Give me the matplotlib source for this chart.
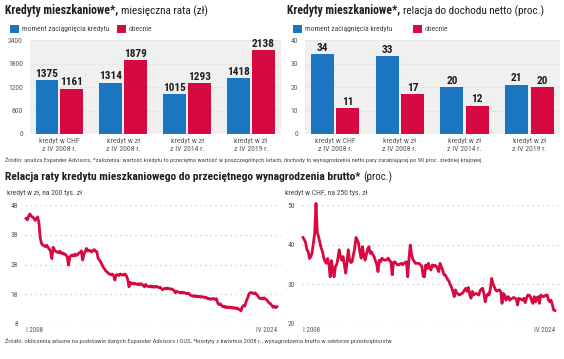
import numpy as np
import pandas as pd
import matplotlib
matplotlib.use('Agg')
import matplotlib.pyplot as plt
from matplotlib import font_manager
from matplotlib.patches import Rectangle

# pick the narrowest font that is installed
entries = font_manager.fontManager.ttflist
names = {f.name for f in entries}
STRETCH = 'normal'
FONT = None
for cand in ['Liberation Sans Narrow', 'Roboto Condensed', 'Open Sans Condensed',
             'Noto Sans Condensed', 'DejaVu Sans Condensed']:
    if cand in names:
        FONT = cand
        break
if FONT is None:
    cond = [f for f in entries if f.stretch in ('condensed', 'semi-condensed')
            and f.name in ('Roboto', 'Noto Sans', 'Open Sans', 'DejaVu Sans', 'Lato', 'Inter')]
    if cond:
        FONT = cond[0].name
        STRETCH = cond[0].stretch
    else:
        FONT = 'Roboto' if 'Roboto' in names else 'Liberation Sans'
plt.rcParams['font.family'] = [FONT, 'DejaVu Sans']
plt.rcParams['font.stretch'] = STRETCH

BLUE = '#1a76c0'
RED = '#d60a40'
GRAY_BG = '#f0f0f0'
TXT = '#1e1e1e'
TICK = '#5a5a5a'
NOTE = '#4a4a4a'

# data - bar charts
categories = ['kredyt w CHF\nz IV 2008 r.', 'kredyt w zł\nz IV 2008 r.',
              'kredyt w zł\nz IV 2014 r.', 'kredyt w zł\nz IV 2019 r.']
rata_start = [1375, 1314, 1015, 1418]
rata_now = [1161, 1879, 1293, 2138]
rel_start = [34, 33, 20, 21]
rel_now = [11, 17, 12, 20]
legend_labels = ['moment zaciągnięcia kredytu', 'obecnie']

# data - monthly ratio, I 2008 .. IV 2024
pln_200 = [
    43.5, 43.0, 44.2, 45.0, 44.3, 44.0, 43.6, 42.8, 43.4, 44.0, 42.0, 37.0,  # 2008
    35.0, 34.5, 34.3, 34.0, 34.5, 33.8, 33.2, 32.5, 30.0, 33.8, 33.0, 32.4,  # 2009
    32.2, 32.0, 32.5, 31.8, 32.0, 31.5, 31.6, 31.2, 30.5, 27.8, 30.5, 31.0,  # 2010
    31.2, 30.8, 31.5, 31.0, 31.3, 31.8, 32.0, 32.6, 29.5, 31.5, 32.5, 33.4,  # 2011
    32.5, 32.8, 32.6, 32.2, 32.8, 33.0, 32.5, 32.3, 30.0, 29.5, 28.8, 28.0,  # 2012
    27.0, 26.5, 25.8, 25.5, 25.0, 24.8, 24.5, 24.8, 24.3, 22.8, 24.5, 24.6,  # 2013
    24.3, 24.8, 24.5, 24.6, 24.4, 24.8, 24.2, 23.0, 20.5, 22.0, 21.5, 21.8,  # 2014
    21.4, 21.6, 21.3, 21.5, 21.2, 21.6, 21.3, 21.0, 20.5, 21.3, 20.8, 20.6,  # 2015
    20.5, 20.8, 20.4, 20.6, 20.3, 20.7, 20.5, 20.2, 20.4, 20.0, 19.5, 19.8,  # 2016
    20.0, 19.8, 20.1, 19.9, 19.7, 19.8, 19.6, 19.2, 18.5, 19.0, 18.8, 18.6,  # 2017
    18.5, 18.7, 18.4, 18.6, 18.3, 18.2, 18.4, 18.0, 17.6, 17.5, 17.3, 17.5,  # 2018
    17.2, 17.4, 17.1, 17.3, 17.0, 17.2, 17.1, 16.8, 17.0, 16.5, 16.6, 16.3,  # 2019
    16.5, 16.4, 16.6, 16.2, 16.5, 15.0, 14.5, 14.8, 14.2, 13.8, 14.0, 13.5,  # 2020
    13.8, 13.5, 13.7, 13.4, 13.6, 13.3, 13.5, 13.2, 13.4, 13.0, 12.8, 12.4,  # 2021
    13.8, 14.2, 14.0, 15.5, 16.5, 17.8, 18.5, 18.6, 18.4, 18.2, 18.5, 18.0,  # 2022
    17.5, 16.8, 16.5, 16.7, 16.5, 16.8, 16.4, 16.2, 15.5, 15.0, 14.8, 14.2,  # 2023
    13.6, 14.0, 13.5, 13.8,                                                  # 2024
]
chf_250 = [
    41.8, 41.2, 40.5, 38.7, 38.3, 36.5, 37.0, 38.0, 40.5, 42.9, 50.4, 43.0,  # 2008
    42.0, 40.5, 39.2, 38.3, 36.8, 35.8, 35.3, 36.5, 35.0, 31.9, 36.0, 33.6,  # 2009
    31.9, 34.5, 34.9, 36.5, 38.7, 37.0, 36.1, 37.0, 34.8, 32.8, 35.5, 38.7,  # 2010
    36.1, 35.5, 35.7, 37.5, 39.0, 41.8, 41.2, 40.3, 38.0, 36.6, 39.5, 37.4,  # 2011
    36.1, 37.5, 38.9, 39.5, 37.8, 38.2, 37.5, 37.0, 36.0, 35.0, 33.2, 36.1,  # 2012
    35.7, 36.6, 36.3, 36.1, 36.1, 36.3, 36.6, 36.0, 35.7, 32.4, 35.5, 35.7,  # 2013
    35.3, 34.9, 34.9, 35.1, 35.3, 34.9, 35.3, 35.5, 35.7, 31.9, 36.5, 39.9,  # 2014
    37.5, 36.3, 35.8, 35.3, 35.3, 35.3, 35.2, 34.9, 34.5, 32.0, 31.9, 34.9,  # 2015
    34.0, 35.3, 34.0, 33.6, 34.9, 34.5, 34.8, 34.6, 34.0, 33.2, 35.3, 34.5,  # 2016
    33.6, 32.4, 32.4, 31.8, 31.2, 30.7, 29.9, 29.2, 28.2, 26.9, 28.6, 27.8,  # 2017
    27.5, 27.3, 27.5, 27.7, 28.0, 28.6, 29.0, 28.2, 29.2, 27.5, 26.5, 28.2,  # 2018
    27.3, 27.6, 27.7, 27.5, 27.3, 28.3, 28.8, 29.0, 27.7, 25.6, 27.0, 27.6,  # 2019
    27.3, 29.0, 31.5, 30.2, 29.4, 28.6, 28.3, 28.5, 28.6, 28.2, 25.2, 27.7,  # 2020
    27.3, 26.0, 26.8, 26.9, 26.0, 26.3, 26.5, 26.7, 26.5, 26.3, 24.8, 26.5,  # 2021
    26.3, 26.2, 26.0, 26.5, 25.4, 26.5, 27.3, 27.3, 26.9, 25.8, 25.2, 26.9,  # 2022
    25.6, 26.6, 26.9, 25.2, 27.3, 27.1, 26.9, 27.0, 27.3, 27.3, 26.0, 25.6,  # 2023
    26.0, 24.8, 23.5, 23.4,                                                  # 2024
]
months = pd.date_range('2008-01-01', periods=len(pln_200), freq='MS')

W, H = 564, 359
fig = plt.figure(figsize=(W / 100, H / 100), dpi=100)
fig.patch.set_facecolor('white')
renderer = fig.canvas.get_renderer()


def size_for(s, target_px, weight='normal', ref=10.0):
    # font size that makes the string about target_px wide
    t = fig.text(0, 0, s, fontsize=ref, fontweight=weight)
    w = t.get_window_extent(renderer).width
    t.remove()
    return ref * target_px / w


def ax_px(x0, y0, x1, y1):
    return fig.add_axes([x0 / W, 1 - y1 / H, (x1 - x0) / W, (y1 - y0) / H])


def ftext(x, y, s, **kw):
    return fig.text(x / W, 1 - y / H, s, **kw)


# sizes
S_VAL = min(9.0, size_for('2138', 23, 'bold'))
S_TICK = min(6.5, size_for('2400', 15))
S_CAT = min(6.5, size_for('kredyt w CHF', 40))
S_LEG = min(6.5, size_for(legend_labels[0], 88))
S_SUB = min(6.5, size_for('kredyt w zł, na 200 tys. zł', 75))
S_DATE = min(6.5, size_for('IV 2024', 21))


def legend(x, y, gap):
    for xx, col, lab in zip([x, x + gap], [BLUE, RED], legend_labels):
        fig.add_artist(Rectangle((xx / W, 1 - (y + 4) / H), 9 / W, 8 / H,
                                 transform=fig.transFigure, color=col, lw=0))
        ftext(xx + 12, y, lab, fontsize=S_LEG, color='#444444', va='center')


def bar_panel(ax, start, now, ymax, yticks):
    x = np.arange(len(categories))
    w = 0.355
    b1 = ax.bar(x - 0.195, start, w, color=BLUE, zorder=3)
    b2 = ax.bar(x + 0.195, now, w, color=RED, zorder=3)
    for bars, vals in [(b1, start), (b2, now)]:
        for r, v in zip(bars, vals):
            ax.text(r.get_x() + r.get_width() / 2, v + ymax * 0.015, str(v),
                    ha='center', va='bottom', fontsize=S_VAL, fontweight='bold',
                    color=TXT, zorder=4)
    ax.set_ylim(0, ymax)
    ax.set_xlim(-0.46, 3.47)
    ax.set_yticks(yticks)
    ax.set_facecolor(GRAY_BG)
    for s in ax.spines.values():
        s.set_visible(False)
    ax.grid(axis='y', color='#d6d6d6', lw=0.7, linestyle=(0, (1, 2)), zorder=0)
    ax.set_xticks(x)
    ax.set_xticklabels(categories, fontsize=S_CAT, color=TICK, linespacing=1.45)
    ax.tick_params(axis='y', length=0, labelsize=S_TICK, labelcolor=TICK, pad=5)
    ax.tick_params(axis='x', length=0, pad=3)


def line_panel(ax, vals, ylim, yticks):
    ax.plot(months, vals, color=RED, lw=2.0, solid_joinstyle='round', zorder=3,
            clip_on=False)
    ax.set_ylim(*ylim)
    ax.set_xlim(months[0] - pd.Timedelta(days=25), months[-1] + pd.Timedelta(days=95))
    ax.set_yticks(yticks)
    for s in ax.spines.values():
        s.set_visible(False)
    ax.grid(axis='y', color='#c8c8c8', lw=0.9, linestyle=(0, (1, 3)), zorder=0)
    ax.set_xticks([months[0], months[-1]])
    ax.set_xticklabels(['I 2008', 'IV 2024'], fontsize=S_DATE, color=TICK)
    labs = ax.get_xticklabels()
    labs[0].set_ha('left')
    labs[1].set_ha('right')
    ax.tick_params(axis='y', length=0, labelsize=S_TICK, labelcolor=TICK, pad=5)
    ax.tick_params(axis='x', length=0, pad=2)


# top panels
ax1 = ax_px(30, 40, 281, 134)
bar_panel(ax1, rata_start, rata_now, 2400, [0, 600, 1200, 1800, 2400])
ax2 = ax_px(305, 40, 560, 134)
bar_panel(ax2, rel_start, rel_now, 40, [0, 10, 20, 30, 40])

legend(10, 29, 107)
legend(293, 29, 120)

# bottom panels
ax3 = ax_px(25, 205, 281, 324)
line_panel(ax3, pln_200, (8, 48), [8, 18, 28, 38, 48])
ax4 = ax_px(302, 205, 559, 324)
line_panel(ax4, chf_250, (20, 50), [20, 30, 40, 50])

ftext(7, 193, 'kredyt w zł, na 200 tys. zł', fontsize=S_SUB, color='#444444', va='center')
ftext(285, 193, 'kredyt w CHF, na 250 tys. zł', fontsize=S_SUB, color='#444444', va='center')


# titles: bold part + regular part glued together
def two_part(x, y, bold, rest, bold_w):
    size = min(9.0, size_for(bold, bold_w, 'bold'))
    t = ftext(x, y, bold, fontsize=size, fontweight='bold', color=TXT, va='baseline')
    bb = t.get_window_extent(renderer)
    fig.text((bb.x1 + 3) / W, 1 - y / H, rest, fontsize=size * 0.95, color=TXT,
             va='baseline')


two_part(5, 14, 'Kredyty mieszkaniowe*,', 'miesięczna rata (zł)', 113)
two_part(287, 14, 'Kredyty mieszkaniowe*,', 'relacja do dochodu netto (proc.)', 113)
two_part(5, 180, 'Relacja raty kredytu mieszkaniowego do przeciętnego wynagrodzenia brutto*',
         '(proc.)', 355)

note1 = ('Źródło: analiza Expander Advisors, *założenia: wartość kredytu to przeciętna '
         'wartość w poszczególnych latach, dochody to wynagrodzenia netto pary zarabiającej '
         'po 90 proc. średniej krajowej')
note2 = ('Źródło: obliczenia własne na podstawie danych Expander Advisors i GUS, '
         '*kredyty z kwietnia 2008 r., wynagrodzenia brutto w sektorze przedsiębiorstw')
ftext(5, 160, note1, fontsize=min(5.5, size_for(note1, 474)), color=NOTE, va='center')
ftext(5, 341, note2, fontsize=min(5.5, size_for(note2, 382)), color=NOTE, va='center')

fig.savefig('out.png', dpi=100, facecolor='white')
